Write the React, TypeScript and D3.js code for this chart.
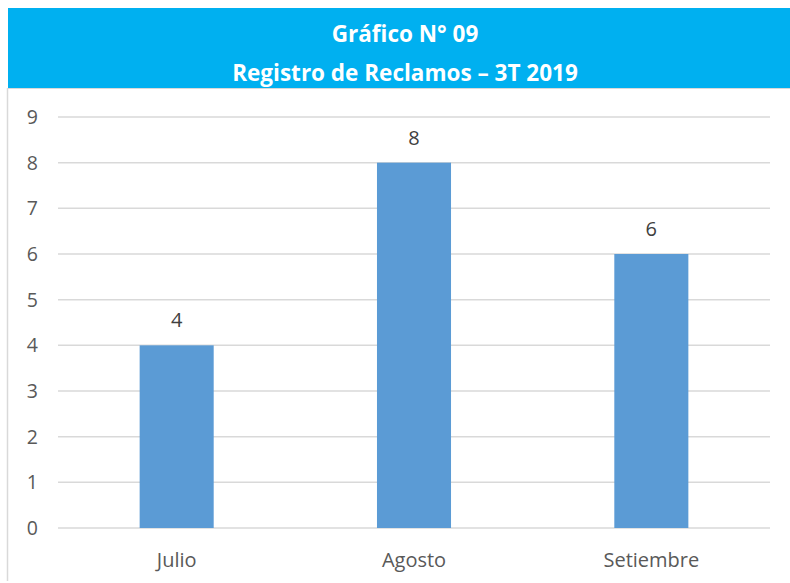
import React from "react";
import * as d3 from "d3";

const categories = ["Julio", "Agosto", "Setiembre"];
const values = [4, 8, 6];
const yTicks = [0, 1, 2, 3, 4, 5, 6, 7, 8, 9];
const titleLines = ["Gráfico N° 09", "Registro de Reclamos – 3T 2019"];

const W = 790;
const H = 583;
const plot = { left: 58, right: 770, top: 117, bottom: 528 };

export default function App() {
  const x = d3
    .scaleBand<string>()
    .domain(categories)
    .range([plot.left, plot.right])
    .paddingInner(0.688)
    .paddingOuter(0.344);
  const y = d3.scaleLinear().domain([0, 9]).range([plot.bottom, plot.top]);
  const font = "'Open Sans', sans-serif";
  return (
    <svg
      width={W}
      height={H}
      style={{ position: "absolute", left: 0, top: 0, background: "#fff" }}
    >
      <rect x={8} y={8} width={W - 8} height={80} fill="#00B0F0" />
      <line x1={8} x2={W} y1={88.5} y2={88.5} stroke="#d9d9d9" strokeWidth={1} />
      <line x1={7.5} x2={7.5} y1={88} y2={581} stroke="#d9d9d9" strokeWidth={1.5} />
      {titleLines.map((t, i) => (
        <text
          key={i}
          x={405}
          y={i === 0 ? 42 : 81}
          textAnchor="middle"
          fill="#fff"
          fontWeight="bold"
          fontSize={22.5}
          fontFamily="'Open Sans', sans-serif"
        >
          {t}
        </text>
      ))}
      {yTicks.map((t) => (
        <g key={t}>
          <line
            x1={plot.left}
            x2={plot.right}
            y1={y(t)}
            y2={y(t)}
            stroke="#d9d9d9"
            strokeWidth={1.5}
          />
          <text
            x={38}
            y={y(t)}
            dy="0.36em"
            textAnchor="end"
            fill="#595959"
            fontSize={19.5}
            fontFamily={font}
          >
            {t}
          </text>
        </g>
      ))}
      {categories.map((c, i) => (
        <g key={c}>
          <rect
            x={x(c)}
            y={y(values[i])}
            width={x.bandwidth()}
            height={y(0) - y(values[i])}
            fill="#5B9BD5"
          />
          <text
            x={(x(c) as number) + x.bandwidth() / 2}
            y={y(values[i]) - 18}
            textAnchor="middle"
            fill="#404040"
            fontSize={20}
            fontFamily={font}
          >
            {values[i]}
          </text>
          <text
            x={(x(c) as number) + x.bandwidth() / 2}
            y={567}
            textAnchor="middle"
            fill="#595959"
            fontSize={20}
            fontFamily={font}
          >
            {c}
          </text>
        </g>
      ))}
    </svg>
  );
}
